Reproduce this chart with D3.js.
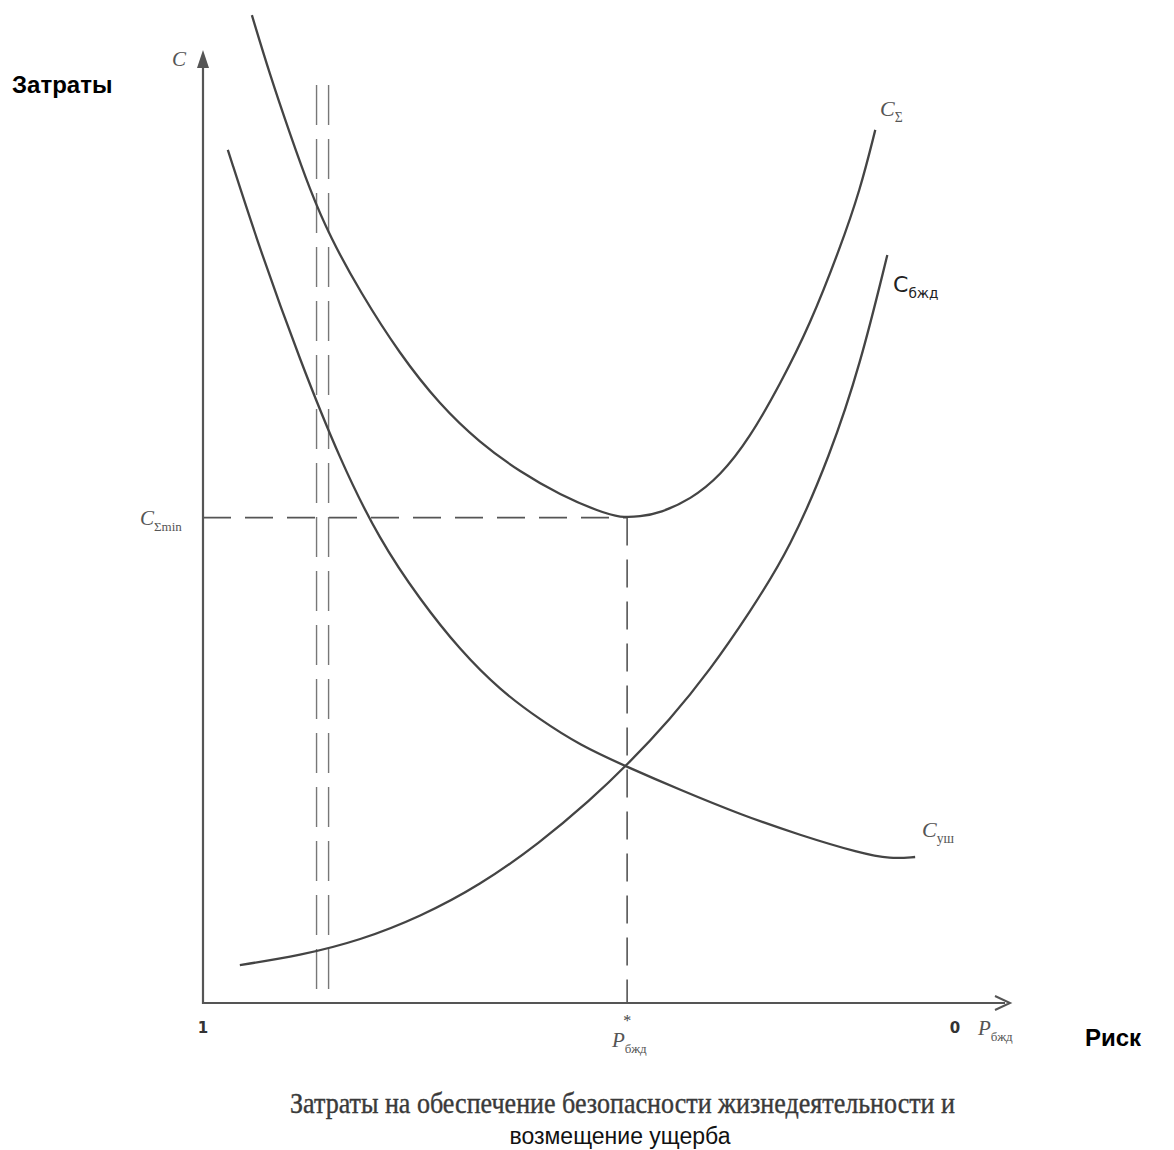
<!DOCTYPE html>
<html><head><meta charset="utf-8">
<script src="https://cdn.jsdelivr.net/npm/d3@7"></script>
<style>html,body{margin:0;padding:0;background:#fff;}</style>
</head><body>
<svg id="c" width="1174" height="1150"></svg>
<script>
// Risk axis runs from 1 (left) to 0 (right); cost in relative units
const xTicks = [1, 0];
const pStar = 0.436;
const cSumMin = 51.2;
const doubleLines = [0.849, 0.833];

const sumX = [0.935, 0.911, 0.884, 0.858, 0.831, 0.791, 0.738, 0.685, 0.632, 0.578, 0.525, 0.472, 0.445, 0.419, 0.392, 0.352, 0.312, 0.273, 0.233, 0.193, 0.153, 0.126, 0.106];
const sumY = [104.2, 97.9, 91.6, 85.8, 80.8, 75.0, 68.4, 63.1, 59.1, 56.0, 53.6, 51.8, 51.2, 51.3, 51.7, 53.1, 55.6, 59.6, 65.2, 71.5, 79.6, 85.8, 92.1];

const damX = [0.967, 0.924, 0.871, 0.818, 0.765, 0.711, 0.658, 0.605, 0.552, 0.499, 0.436, 0.366, 0.286, 0.206, 0.126, 0.086, 0.053];
const damY = [90.0, 79.4, 67.8, 57.3, 48.8, 42.5, 37.2, 33.0, 29.9, 27.2, 24.9, 22.5, 19.9, 17.7, 15.8, 15.2, 15.4];

const safX = [0.951, 0.871, 0.791, 0.711, 0.632, 0.552, 0.485, 0.436, 0.379, 0.326, 0.273, 0.219, 0.166, 0.126, 0.090];
const safY = [4.0, 5.0, 6.6, 9.1, 12.4, 16.9, 21.4, 25.1, 29.9, 35.1, 41.2, 48.0, 57.8, 67.3, 78.9];

const svg = d3.select("#c");
const x = d3.scaleLinear().domain([1, 0]).range([203, 955]);
const y = d3.scaleLinear().domain([0, 100]).range([1003, 55]);

const ink = "#444";
const line = d3.line().x(d => x(d[0])).y(d => y(d[1])).curve(d3.curveBasis);
const zip = (a, b) => a.map((v, i) => [v, b[i]]);

// dashed guides
const dash = "28,14";
svg.append("line").attr("x1", x(1)).attr("x2", x(pStar)).attr("y1", y(cSumMin)).attr("y2", y(cSumMin))
  .attr("stroke", "#555").attr("stroke-width", 1.6).attr("stroke-dasharray", dash);
svg.append("line").attr("x1", x(pStar)).attr("x2", x(pStar)).attr("y1", y(cSumMin)).attr("y2", y(0))
  .attr("stroke", "#555").attr("stroke-width", 1.6).attr("stroke-dasharray", dash);
doubleLines.forEach(v => {
  svg.append("line").attr("x1", x(v)).attr("x2", x(v)).attr("y1", 85).attr("y2", y(0))
    .attr("stroke", "#777").attr("stroke-width", 1.4).attr("stroke-dasharray", "40,14");
});

// curves
[[sumX, sumY], [damX, damY], [safX, safY]].forEach(([a, b]) => {
  svg.append("path").attr("d", line(zip(a, b))).attr("fill", "none")
    .attr("stroke", ink).attr("stroke-width", 2.3);
});

// axes
const axisColor = "#555";
svg.append("line").attr("x1", x(1)).attr("x2", x(1)).attr("y1", y(0) + 1).attr("y2", 62)
  .attr("stroke", axisColor).attr("stroke-width", 2.2);
svg.append("path").attr("d", `M${x(1) - 6},${68} L${x(1)},${50} L${x(1) + 6},${68} Z`).attr("fill", axisColor);
svg.append("line").attr("x1", x(1)).attr("x2", 1005).attr("y1", y(0)).attr("y2", y(0))
  .attr("stroke", axisColor).attr("stroke-width", 2.2);
svg.append("path").attr("d", `M995,${y(0) - 7} L1010,${y(0)} L995,${y(0) + 7}`).attr("fill", "none")
  .attr("stroke", axisColor).attr("stroke-width", 2);

// tick labels
svg.selectAll(".tk").data(xTicks).enter().append("text")
  .attr("x", d => x(d)).attr("y", 1033).attr("text-anchor", "middle")
  .attr("font-family", "DejaVu Sans, sans-serif").attr("font-weight", "bold").attr("font-size", 15)
  .attr("fill", "#333").text(d => d);

const serif = "Liberation Serif, serif";
function sub(main, subText, px, py, size, opts = {}) {
  const el = svg.append("text").attr("x", px).attr("y", py).attr("font-family", opts.family || serif)
    .attr("font-size", size).attr("fill", opts.fill || "#555");
  if (opts.bold) el.attr("font-weight", "bold");
  el.append("tspan").attr("font-style", opts.upright ? "normal" : "italic").text(main);
  el.append("tspan").attr("font-size", size * 0.62).attr("dy", size * 0.28).text(subText);
  return el;
}

// axis letter labels
svg.append("text").attr("x", 172).attr("y", 66).attr("font-family", serif).attr("font-style", "italic")
  .attr("font-size", 21).attr("fill", "#555").text("C");
sub("C", "Σmin", 140, 525, 21);
sub("P", "бжд", 978, 1035, 21);
sub("P", "бжд", 612, 1047, 21);
svg.append("text").attr("x", x(pStar)).attr("y", 1026).attr("text-anchor", "middle")
  .attr("font-family", serif).attr("font-size", 16).attr("fill", "#444").text("*");

// curve labels
sub("C", "Σ", 880, 116, 22);
sub("C", "бжд", 893, 292, 22, {family: "DejaVu Sans, sans-serif", upright: true, fill: "#222"});
sub("C", "уш", 922, 837, 22);

// outer labels
svg.append("text").attr("x", 12).attr("y", 93).attr("font-family", "Liberation Sans, Arial, sans-serif")
  .attr("font-weight", "bold").attr("font-size", 24).attr("fill", "#000").text("Затраты");
svg.append("text").attr("x", 1085).attr("y", 1046).attr("font-family", "Liberation Sans, Arial, sans-serif")
  .attr("font-weight", "bold").attr("font-size", 24).attr("fill", "#000").text("Риск");

svg.append("text").attr("x", 290).attr("y", 1113).attr("font-family", serif).attr("font-size", 29)
  .attr("fill", "#3a3a3a").attr("textLength", 665).attr("lengthAdjust", "spacingAndGlyphs")
  .attr("stroke", "#3a3a3a").attr("stroke-width", 0.4)
  .text("Затраты на обеспечение безопасности жизнедеятельности и");
svg.append("text").attr("x", 620).attr("y", 1144).attr("text-anchor", "middle")
  .attr("font-family", "Liberation Sans, Arial, sans-serif").attr("font-size", 23).attr("fill", "#111")
  .text("возмещение ущерба");
</script>
</body></html>
